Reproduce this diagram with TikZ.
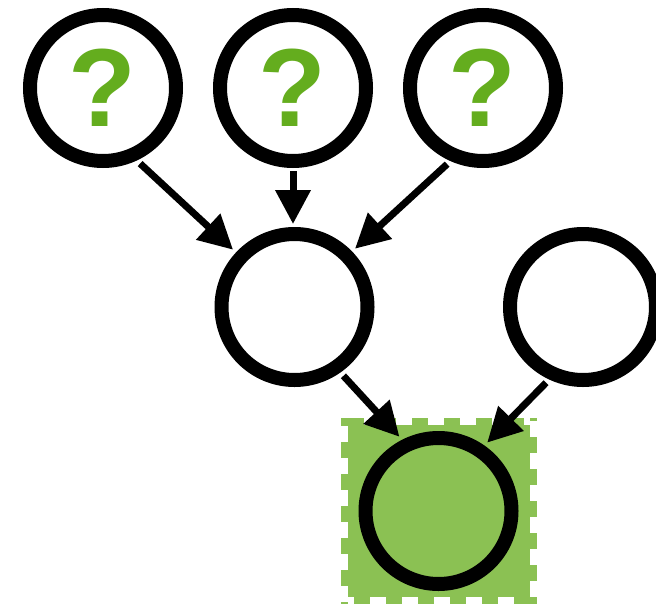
\documentclass[tikz,border=0pt]{standalone}
\usepackage{fontspec}
\setmainfont{Liberation Sans}
\usetikzlibrary{arrows.meta}
\definecolor{qgreen}{HTML}{64AD1E}
\definecolor{boxgreen}{HTML}{8BC153}
\tikzset{
  var/.style={circle, draw=black, line width=14pt, fill=white,
    minimum size=146pt, inner sep=0pt, outer sep=7pt},
  qmark/.style={text=qgreen, font=\fontsize{111}{111}\selectfont\bfseries,
    inner sep=0pt},
  link/.style={line width=7pt, -{Triangle[length=34pt,width=34pt]},
    shorten <=4.5pt, shorten >=4pt},
  stamp/.style={boxgreen, line width=7pt, dash pattern=on 16pt off 16pt}
}
\begin{document}
\begin{tikzpicture}[x=1pt, y=-1pt]
  \useasboundingbox (0,0) rectangle (656,605);
  \clip (0,0) rectangle (656,605);

  % observed variable: green stamp-like square behind the bottom circle
  \fill[boxgreen] (348,425) rectangle (530,597);
  \draw[stamp, dash phase=25pt] (341,421.5) -- (537,421.5);
  \draw[stamp, dash phase=19pt] (341,600.5) -- (537,600.5);
  \draw[stamp, dash phase=8pt] (344.5,418) -- (344.5,604);
  \draw[stamp, dash phase=13pt] (533.5,418) -- (533.5,604);

  % nodes
  \node[var] (q1) at (103,88) {};
  \node[var] (q2) at (293,88) {};
  \node[var] (q3) at (483,88) {};
  \node[qmark] (m1) at (102.5,87.5) {?};
  \node[qmark] (m2) at (292.5,87.5) {?};
  \node[qmark] (m3) at (482.5,87.5) {?};
  \node[var] (mid) at (294.5,307) {};
  \node[var] (side) at (583,307) {};
  \node[var, fill=boxgreen] (obs) at (438.5,511) {};

  % edges
  \draw[link] (q1.-65.6) -- (mid.137);
  \draw[link, shorten <=3pt, shorten >=3pt] (q2.south) -- (q2.south |- mid.north);
  \draw[link] (q3.-114.4) -- (mid.44);
  \draw[link] (mid.-55) -- (obs.117);
  \draw[link] (side.-115) -- (obs.55);
\end{tikzpicture}
\end{document}
